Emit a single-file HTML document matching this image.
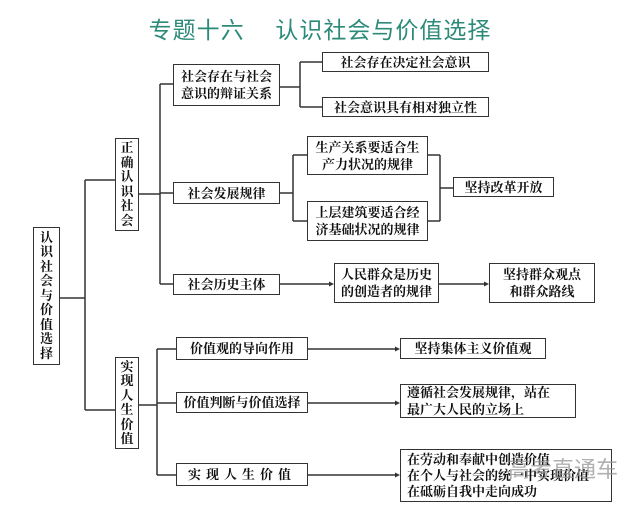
<!DOCTYPE html>
<html><head><meta charset="utf-8"><style>
body{margin:0;width:640px;height:506px;background:#fff;position:relative;overflow:hidden;font-family:"Liberation Serif","Noto Serif CJK SC",serif;}
.b{position:absolute;border:1.5px solid #333;box-sizing:border-box;font-size:13px;font-weight:bold;color:#111;display:flex;align-items:center;justify-content:center;text-align:center;line-height:17px;background:#fff;}
.v{flex-direction:column;line-height:14.5px;}
.l{justify-content:flex-start;text-align:left;padding-left:6px;}
svg{position:absolute;left:0;top:0;}
</style></head><body>
<div style="position:absolute;left:0;width:640px;top:11px;text-align:center;font-size:23px;color:#2b8a78;font-family:'Noto Sans CJK SC',sans-serif;letter-spacing:1px;">专题十六&nbsp;&nbsp;&nbsp;&nbsp;&nbsp;认识社会与价值选择</div>
<svg width="640" height="506" stroke="#333" stroke-width="1.5" fill="none">
<path d="M60 298H85M85 180V410M85 180H115M85 410H115"/>
<path d="M139 194H160M160 84V284M160 84H173M160 193H173M160 284H173"/>
<path d="M280 87H300M300 62V107M300 62H322M300 107H322"/>
<path d="M280 193H293M293 155V221M293 155H307M293 221H307"/>
<path d="M428 155H440M428 221H440M440 155V221M440 188H453"/>
<path d="M280 284H332M439 284H487"/>
<path d="M139 405H157M157 349V475M157 349H176M157 403H176M157 475H176"/>
<path d="M308 349H398M308 403H398M308 475H398"/>
<g fill="#333" stroke="none">
<path d="M334 284l-5 -2.5v5z"/><path d="M489 284l-5 -2.5v5z"/>
<path d="M400 349l-5 -2.5v5z"/><path d="M400 403l-5 -2.5v5z"/><path d="M400 475l-5 -2.5v5z"/>
</g>
</svg>
<div class="b v" style="left:33px;top:227px;width:27px;height:138px;">认<br>识<br>社<br>会<br>与<br>价<br>值<br>选<br>择</div>
<div class="b v" style="left:115px;top:138px;width:24px;height:93px;">正<br>确<br>认<br>识<br>社<br>会</div>
<div class="b v" style="left:115px;top:357px;width:24px;height:92px;">实<br>现<br>人<br>生<br>价<br>值</div>
<div class="b" style="left:173px;top:64px;width:107px;height:42px;">社会存在与社会<br>意识的辩证关系</div>
<div class="b" style="left:322px;top:52px;width:167px;height:20px;">社会存在决定社会意识</div>
<div class="b" style="left:322px;top:97px;width:167px;height:20px;">社会意识具有相对独立性</div>
<div class="b" style="left:307px;top:136px;width:121px;height:39px;">生产关系要适合生<br>产力状况的规律</div>
<div class="b" style="left:173px;top:182px;width:107px;height:22px;">社会发展规律</div>
<div class="b" style="left:453px;top:177px;width:101px;height:20px;">坚持改革开放</div>
<div class="b" style="left:307px;top:201px;width:121px;height:40px;">上层建筑要适合经<br>济基础状况的规律</div>
<div class="b" style="left:173px;top:274px;width:107px;height:21px;">社会历史主体</div>
<div class="b" style="left:334px;top:263px;width:105px;height:40px;">人民群众是历史<br>的创造者的规律</div>
<div class="b" style="left:489px;top:263px;width:106px;height:40px;">坚持群众观点<br>和群众路线</div>
<div class="b" style="left:176px;top:337px;width:132px;height:23px;">价值观的导向作用</div>
<div class="b" style="left:400px;top:338px;width:146px;height:21px;">坚持集体主义价值观</div>
<div class="b" style="left:176px;top:392px;width:132px;height:21px;">价值判断与价值选择</div>
<div class="b l" style="left:400px;top:384px;width:176px;height:34px;">遵循社会发展规律，站在<br>最广大人民的立场上</div>
<div class="b" style="left:176px;top:463px;width:132px;height:23px;letter-spacing:5px;">实现人生价值</div>
<div class="b l" style="left:400px;top:449px;width:212px;height:53px;line-height:16px;">在劳动和奉献中创造价值<br>在个人与社会的统一中实现价值<br>在砥砺自我中走向成功</div>
<div style="position:absolute;left:508px;top:452px;font-size:22px;color:rgba(150,150,150,0.75);font-family:'Noto Sans CJK SC',sans-serif;">高考直通车</div>
</body></html>
